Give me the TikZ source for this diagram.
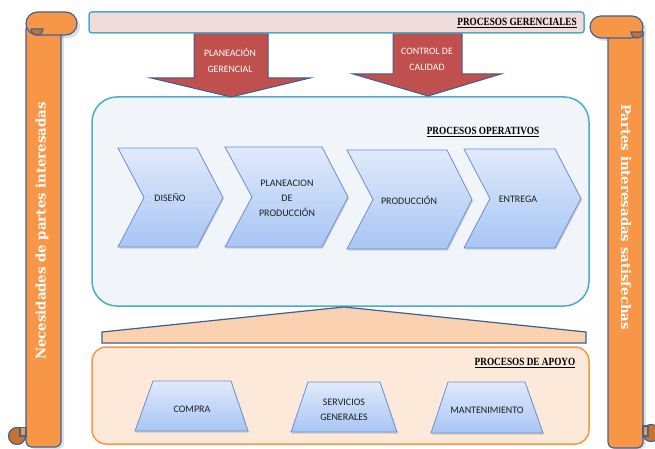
\documentclass[tikz,border=0pt]{standalone}
\usepackage{fontspec}
\usepackage{graphicx}
\setmainfont{Carlito}
\newfontfamily\headfont{Liberation Serif}
\newfontfamily\scrollfont{DejaVu Serif}
\usetikzlibrary{shadows}
\definecolor{scrollfill}{HTML}{F79646}
\definecolor{curlfill}{HTML}{C8722F}
\definecolor{scrollline}{HTML}{3F6397}
\definecolor{teal}{HTML}{4BACC6}
\definecolor{barfill}{HTML}{F2DCDB}
\definecolor{redarrow}{HTML}{C0504D}
\definecolor{arrline}{HTML}{3A5F93}
\definecolor{opfill}{HTML}{F1F4F9}
\definecolor{chevtop}{HTML}{E0EAFB}
\definecolor{chevbot}{HTML}{A8C5F4}
\definecolor{chevline}{HTML}{6A91CF}
\definecolor{supfill}{HTML}{FDE9D9}
\definecolor{suparr}{HTML}{FAD2B2}
\definecolor{txt}{HTML}{1F1F1F}
\tikzset{
  scrollpart/.style={fill=scrollfill,draw=scrollline,line width=1.2pt},
  curlpart/.style={fill=curlfill,draw=scrollline,line width=1.2pt},
  softshadow/.style={fill=black,opacity=0.12},
  chev/.style={top color=chevtop,bottom color=chevbot,draw=chevline,line width=0.8pt,
     drop shadow={shadow xshift=1pt,shadow yshift=-1.5pt,opacity=0.3}},
  trap/.style={top color=chevtop,bottom color=chevbot,draw=chevline,line width=0.8pt,
     drop shadow={shadow xshift=1pt,shadow yshift=-1.5pt,opacity=0.3}},
  lbl/.style={font=\fontsize{10}{15}\selectfont,text=txt,align=center,inner sep=0pt},
  arrlbl/.style={font=\fontsize{9.8}{16}\selectfont,text=white,align=center,inner sep=0pt},
  head/.style={font=\headfont\bfseries\fontsize{11}{13}\selectfont,text=black,inner sep=0pt},
  scrolltxt/.style={font=\scrollfont\bfseries\fontsize{13.3}{15}\selectfont,text=white,inner sep=0pt},
}
\newcommand{\hd}[1]{\scalebox{0.84}[1]{\underline{#1}}}
\begin{document}
\begin{tikzpicture}[x=1pt,y=-1pt]
\useasboundingbox (0,0) rectangle (655,449);

% ---------- left scroll ----------
\begin{scope}
  \path[softshadow,rounded corners=6] (29,26) rectangle (64,449);
  \path[softshadow,rounded corners=11] (29,15) rectangle (80,38);
  \path[scrollpart,rounded corners=6] (26,23) -- (61,23) -- (61,447) -- (26,447) -- cycle;
  \path[curlpart] (17,436) circle[radius=8.5];
  \path[scrollpart] (20,427.5) rectangle (26,436);
  \path[scrollpart,rounded corners=11.5] (26,12) rectangle (77,35);
  \path[curlpart] (43,29) arc[start angle=0,end angle=180,radius=6] -- cycle;
  \node[scrolltxt,rotate=90] (need) at (42,231) {Necesidades de partes interesadas};
\end{scope}

% ---------- right scroll ----------
\begin{scope}
  \path[softshadow,rounded corners=6] (611,30) rectangle (646,449);
  \path[softshadow,rounded corners=11] (593,19) rectangle (646,41);
  \path[scrollpart,rounded corners=6] (608,27) -- (643,27) -- (643,448) -- (608,448) -- cycle;
  \path[curlpart] (651,433) circle[radius=8.5];
  \path[scrollpart] (643,426) rectangle (648,436);
  \path[scrollpart,rounded corners=11] (590,16) rectangle (643,38);
  \path[curlpart] (643,32) arc[start angle=0,end angle=180,radius=6] -- cycle;
  \node[scrolltxt,rotate=-90] (sat) at (626,217) {Partes interesadas satisfechas};
\end{scope}

% ---------- operative box ----------
\path[fill=opfill,draw=teal,line width=1.5pt,rounded corners=25] (92,97) rectangle (589,306);
\node[head] (ops) at (483,132) {\hd{PROCESOS OPERATIVOS}};

% ---------- top bar and arrows ----------
\path[fill=redarrow,draw=arrline,line width=1pt] (194,33) -- (268,33) -- (268,78) -- (310,78) -- (231,97) -- (151,78) -- (194,78) -- cycle;
\path[fill=redarrow,draw=arrline,line width=1pt] (393,33) -- (462,33) -- (462,74) -- (501,74) -- (428,96) -- (353,74) -- (393,74) -- cycle;
\path[fill=barfill,draw=teal,line width=1.5pt,rounded corners=3] (89,12) rectangle (584,33);
\node[head,anchor=east] (ger) at (577,23) {\hd{PROCESOS GERENCIALES}};
\node[arrlbl] (pg) at (230,60) {PLANEACIÓN\\GERENCIAL};
\node[arrlbl] (cc) at (427,59) {CONTROL DE\\CALIDAD};

% ---------- chevrons ----------
\path[chev] (118,148) -- (197,148) -- (223,197.5) -- (197,247) -- (118,247) -- (144,197.5) -- cycle;
\path[chev] (225,147) -- (322,147) -- (348,197) -- (322,247) -- (225,247) -- (252,197) -- cycle;
\path[chev] (347,150) -- (447,150) -- (472,199.5) -- (447,249) -- (347,249) -- (373,199.5) -- cycle;
\path[chev] (464,149) -- (555,149) -- (581,198.5) -- (555,248) -- (464,248) -- (490,198.5) -- cycle;
\node[lbl] (dis) at (170,198) {DISEÑO};
\node[lbl] (plp) at (287,198) {PLANEACION\\DE\\PRODUCCIÓN};
\node[lbl] (pro) at (409,200) {PRODUCCIÓN};
\node[lbl] (ent) at (518,199) {ENTREGA};

% ---------- support ----------
\path[fill=suparr,draw=arrline,line width=1.2pt] (102,343) -- (102,332) -- (344,307) -- (586,332) -- (586,343) -- cycle;
\path[fill=supfill,draw=scrollfill,line width=1.5pt,rounded corners=14] (92,347) rectangle (589,444);
\node[head] (apo) at (525,363) {\hd{PROCESOS DE APOYO}};

\path[trap] (153,381) -- (231,381) -- (248,431) -- (135,431) -- cycle;
\path[trap] (308,382) -- (380,382) -- (397,432) -- (291,432) -- cycle;
\path[trap] (448,382) -- (525,382) -- (543,433) -- (431,433) -- cycle;
\node[lbl] (com) at (192,409) {COMPRA};
\node[lbl] (ser) at (344,409.5) {SERVICIOS\\GENERALES};
\node[lbl] (man) at (487,410) {MANTENIMIENTO};
\end{tikzpicture}
\end{document}
